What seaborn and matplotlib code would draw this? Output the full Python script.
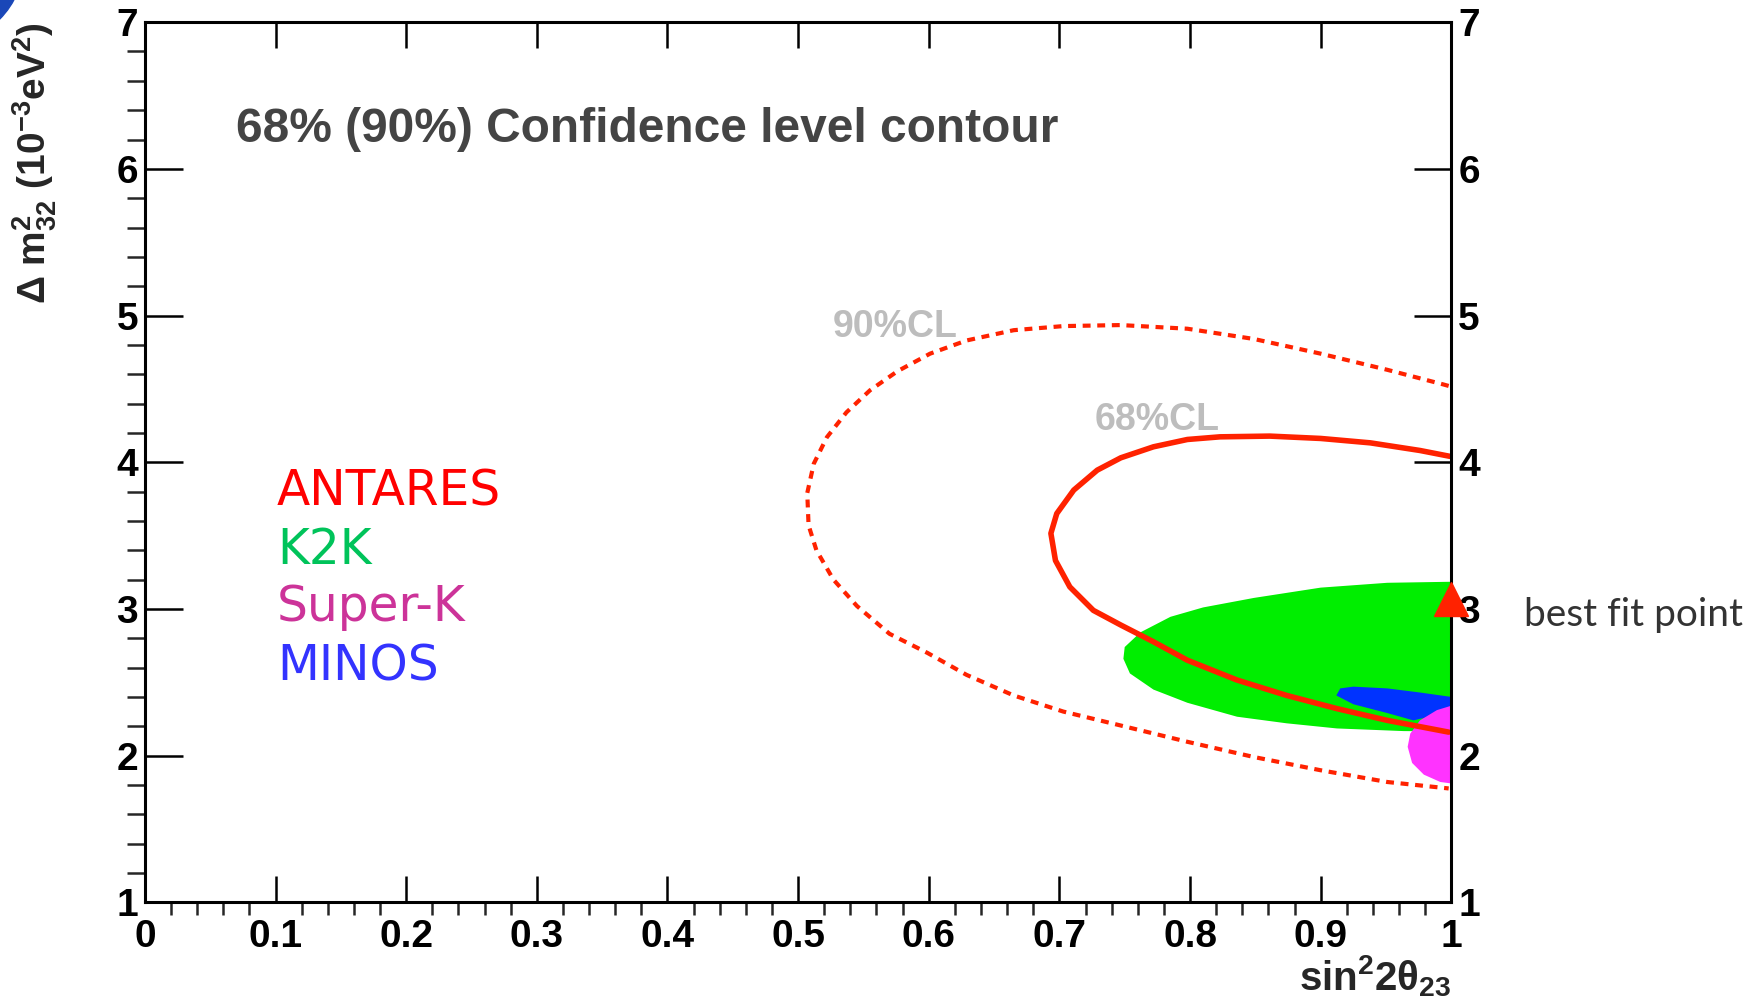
import numpy as np
import pandas as pd
import seaborn as sns
import matplotlib.pyplot as plt
from matplotlib.ticker import MultipleLocator
from matplotlib.patches import Ellipse

# contours (x = sin^2 2theta23, y = dm^2_32 in 1e-3 eV^2)
cl90_x = [0.998, 0.994, 0.951, 0.900, 0.849, 0.798, 0.747, 0.703, 0.665, 0.629, 0.601, 0.576,
          0.555, 0.537, 0.522, 0.512, 0.507, 0.508, 0.514, 0.527, 0.545, 0.570, 0.599, 0.629,
          0.665, 0.703, 0.747, 0.798, 0.849, 0.900, 0.951, 0.998]
cl90_y = [4.52, 4.53, 4.63, 4.74, 4.84, 4.91, 4.935, 4.928, 4.90, 4.83, 4.74, 4.62,
          4.49, 4.34, 4.17, 3.99, 3.79, 3.57, 3.40, 3.20, 3.02, 2.83, 2.70, 2.55,
          2.41, 2.30, 2.205, 2.094, 1.99, 1.90, 1.82, 1.776]

cl68_x = [0.999, 0.976, 0.938, 0.900, 0.861, 0.823, 0.798, 0.772, 0.747, 0.729, 0.711, 0.698,
          0.6935, 0.697, 0.708, 0.726, 0.747, 0.772, 0.798, 0.836, 0.874, 0.9125, 0.951, 0.998]
cl68_y = [4.04, 4.08, 4.132, 4.162, 4.178, 4.173, 4.155, 4.105, 4.03, 3.946, 3.81, 3.65,
          3.515, 3.33, 3.15, 2.99, 2.89, 2.776, 2.65, 2.515, 2.41, 2.32, 2.24, 2.16]

k2k_x = [1.0, 0.951, 0.900, 0.849, 0.810, 0.785, 0.762, 0.750, 0.749, 0.754, 0.772, 0.798,
         0.836, 0.874, 0.9125, 0.9635, 1.0]
k2k_y = [3.185, 3.178, 3.145, 3.075, 3.01, 2.946, 2.84, 2.74, 2.66, 2.56, 2.45, 2.36,
         2.265, 2.22, 2.185, 2.167, 2.165]

minos_x = [0.915, 0.925, 0.951, 0.976, 1.0, 1.0, 0.971, 0.951, 0.925, 0.912]
minos_y = [2.458, 2.47, 2.458, 2.43, 2.40, 2.30, 2.24, 2.29, 2.35, 2.41]

superk_x = [1.0, 0.989, 0.976, 0.9686, 0.9666, 0.970, 0.979, 0.9916, 1.0]
superk_y = [2.34, 2.31, 2.24, 2.15, 2.06, 1.95, 1.87, 1.82, 1.81]

best_fit = (1.0, 3.07)

experiments = ["ANTARES", "K2K", "Super-K", "MINOS"]
exp_colors = ["#ff0000", "#00c35a", "#cc3399", "#3333ff"]
exp_y = [3.80, 3.40, 3.01, 2.61]

sns.set_theme(style="ticks")
plt.rcParams['font.family'] = ['Liberation Sans', 'DejaVu Sans']
plt.rcParams['font.weight'] = 'bold'
plt.rcParams['axes.labelweight'] = 'bold'
plt.rcParams['mathtext.fontset'] = 'custom'
plt.rcParams['mathtext.rm'] = 'Liberation Sans:bold'
plt.rcParams['mathtext.it'] = 'Liberation Sans:bold'
plt.rcParams['mathtext.bf'] = 'Liberation Sans:bold'
plt.rcParams['mathtext.default'] = 'rm'

fig = plt.figure(figsize=(17.57, 10.07), dpi=100)
ax = fig.add_axes([0.0825, 0.104, 0.7435, 0.874])

ax.fill(k2k_x, k2k_y, color="#00ee00", lw=0)
ax.fill(minos_x, minos_y, color="#0033ff", lw=0)
ax.fill(superk_x, superk_y, color="#ff33ff", lw=0)

d90 = pd.DataFrame({"x": cl90_x, "y": cl90_y})
d68 = pd.DataFrame({"x": cl68_x, "y": cl68_y})
sns.lineplot(data=d90, x="x", y="y", sort=False, estimator=None, color="#ff2200",
             lw=3.0, ax=ax)
ax.lines[-1].set_dashes([1.9, 1.6])
ax.lines[-1].set_dash_capstyle("butt")
sns.lineplot(data=d68, x="x", y="y", sort=False, estimator=None, color="#ff2200",
             lw=4.0, ax=ax)

ax.plot(*best_fit, marker="^", ms=25, color="#ff2200", clip_on=False, zorder=5)

ax.set_xlim(0, 1)
ax.set_ylim(1, 7)
ax.xaxis.set_major_locator(MultipleLocator(0.1))
ax.xaxis.set_minor_locator(MultipleLocator(0.02))
ax.yaxis.set_major_locator(MultipleLocator(1))
ax.yaxis.set_minor_locator(MultipleLocator(0.2))
ax.xaxis.set_major_formatter(plt.FuncFormatter(lambda v, p: f"{v:g}"))
ax.tick_params(direction="in", top=True, right=True, labelright=True, colors="black",
               labelsize=28, width=1.8)
ax.tick_params(axis="x", which="major", length=19, pad=12)
ax.tick_params(axis="x", which="minor", length=9, width=1.8)
ax.tick_params(axis="y", which="major", length=27, pad=5)
ax.tick_params(axis="y", which="minor", length=13, width=1.8)
for s in ax.spines.values():
    s.set_linewidth(2.2)
    s.set_color("black")

ax.set_xlabel(r"sin$^2$2θ$_{23}$", fontsize=29, loc="right", fontweight="bold")
ax.xaxis.set_label_coords(1.0, -0.058)
ax.set_ylabel(r"Δ m$^2_{32}$ (10$^{-3}$eV$^2$)", fontsize=28, loc="top", fontweight="bold")
ax.yaxis.set_label_coords(-0.066, 1.0)

ax.text(0.07, 6.27, "68% (90%) Confidence level contour", fontsize=34.5, color="#444444",
        fontweight="bold", va="center", ha="left")
ax.text(0.574, 4.92, "90%CL", fontsize=27, color="#bdbdbd", fontweight="bold",
        ha="center", va="center")
ax.text(0.775, 4.29, "68%CL", fontsize=27, color="#bdbdbd", fontweight="bold",
        ha="center", va="center")

for name, c, yy in zip(experiments, exp_colors, exp_y):
    ax.text(0.101, yy, name, fontsize=35, color=c, family="DejaVu Sans",
            fontweight="normal", va="center", ha="left")

ax.text(1.056, 2.96, "best fit point", fontsize=28, color="#333333", family="Lato",
        fontweight="normal", va="center", ha="left", clip_on=False)

# slide decoration in the corner
fig.add_artist(Ellipse((-60 / 1757, 1 + 40 / 1007), 168 / 1757, 168 / 1007,
                       transform=fig.transFigure, color="#1a47b8"))

fig.savefig("out.png", dpi=100)
